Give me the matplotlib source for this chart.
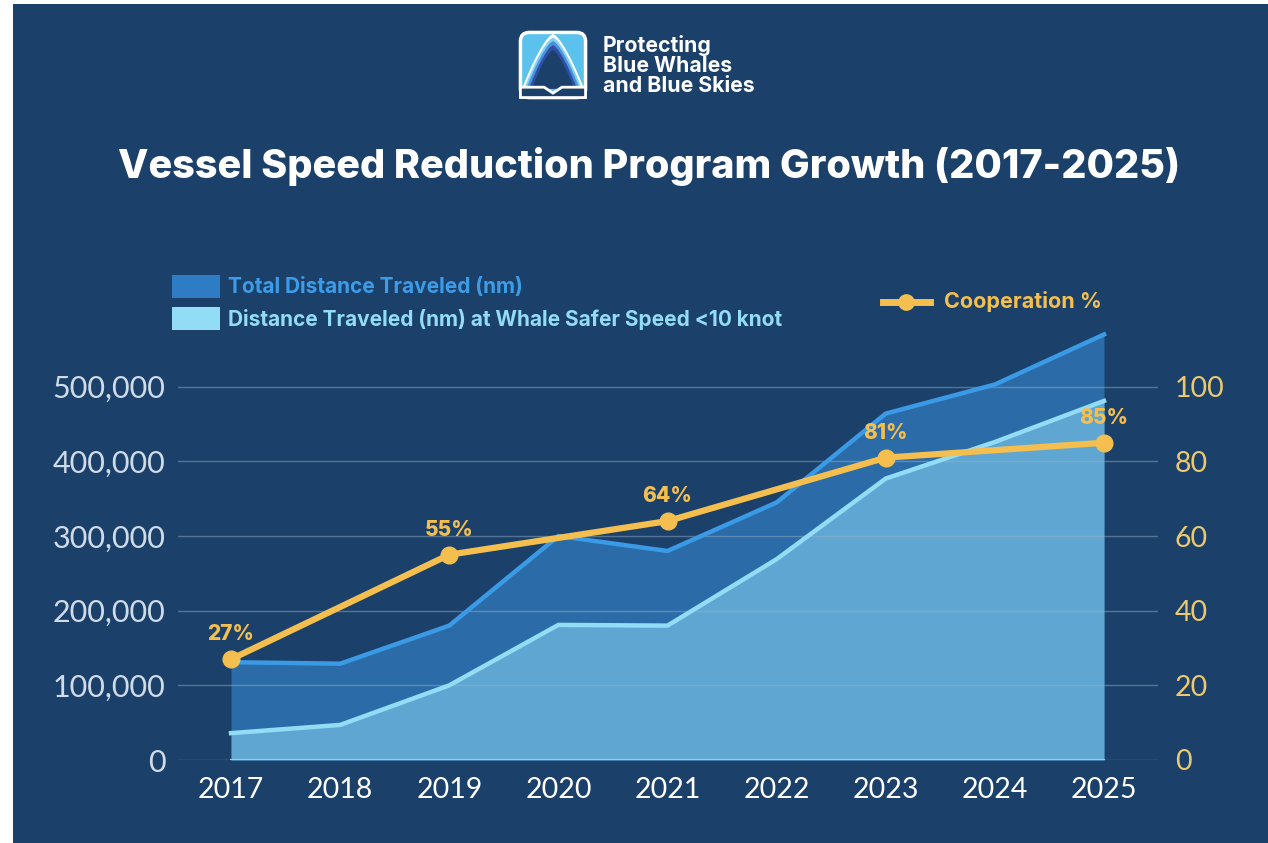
import numpy as np
import matplotlib.pyplot as plt
from matplotlib.patches import FancyBboxPatch, Polygon, Rectangle
from matplotlib.lines import Line2D

years = [2017, 2018, 2019, 2020, 2021, 2022, 2023, 2024, 2025]
total_nm = [131000, 129000, 180000, 300000, 280000, 345000, 464000, 503000, 570000]
safer_nm = [36000, 47000, 100000, 181000, 180000, 269000, 377000, 426000, 481000]
coop_years = [2017, 2019, 2021, 2023, 2025]
coop_pct = [27, 55, 64, 81, 85]

left_ticks = [0, 100000, 200000, 300000, 400000, 500000]
right_ticks = [0, 20, 40, 60, 80, 100]

BG = '#1b416b'
TOTAL_FILL = '#2b6ba7'
TOTAL_LINE = '#3b9ae6'
SAFER_FILL = '#5fa7d2'
SAFER_LINE = '#92dcf6'
YELLOW = '#f5bf4f'
TITLE_FONT = 'Inter'
THIN_FONT = 'Lato'

fig = plt.figure(figsize=(12.68, 8.43), dpi=100)
fig.patch.set_facecolor('white')
# dark panel (tiny white margin left/top like the screenshot)
fig.patches.append(Rectangle((13/1268, 0), 1 - 13/1268, 1 - 4/843, transform=fig.transFigure,
                             facecolor=BG, edgecolor='none', zorder=-5))

ax = fig.add_axes([178/1268, 1 - 760/843, (1158-178)/1268, (760-330)/843])
ax.set_facecolor('none')
x0, x1 = 2017 - 0.486, 2025 + 0.495
ax.set_xlim(x0, x1)
ymax = 576000
ax.set_ylim(0, ymax)

ax.fill_between(years, 0, total_nm, color=TOTAL_FILL, lw=0, zorder=1)
ax.fill_between(years, 0, safer_nm, color=SAFER_FILL, lw=0, zorder=1.1)
ax.plot(years, total_nm, color=TOTAL_LINE, lw=3.2, zorder=3, solid_joinstyle='miter')
ax.plot(years, safer_nm, color=SAFER_LINE, lw=3.2, zorder=3, solid_joinstyle='miter')
ax.plot([years[0], years[-1]], [0, 0], color='#d8c27a', lw=1.5, zorder=3)

for t in left_ticks:
    ax.axhline(t, color='#9fb3c8', lw=1, alpha=0.45, zorder=2)

ax.set_yticks(left_ticks)
ax.set_yticklabels(['{:,}'.format(t) for t in left_ticks])
ax.set_xticks(years)
ax.set_xticklabels([str(y) for y in years])
ax.tick_params(axis='y', length=0, pad=9, labelsize=22, labelcolor='#d0dbe8')
ax.tick_params(axis='x', length=0, pad=12, labelsize=20.5, labelcolor='white')
for lab in ax.get_yticklabels() + ax.get_xticklabels():
    lab.set_fontfamily(THIN_FONT)
for s in ax.spines.values():
    s.set_visible(False)

ax2 = ax.twinx()
ax2.set_ylim(0, ymax / 5000)
ax2.plot(coop_years, coop_pct, color=YELLOW, lw=4.5, marker='o', ms=12,
         solid_capstyle='round', zorder=5)
for xv, yv in zip(coop_years, coop_pct):
    ax2.annotate('{}%'.format(yv), (xv, yv), xytext=(0, 18), textcoords='offset points',
                 ha='center', va='center', color=YELLOW, fontsize=15,
                 fontweight='heavy', fontfamily=TITLE_FONT)
ax2.set_yticks(right_ticks)
ax2.tick_params(axis='y', length=0, pad=12, labelsize=20.5, labelcolor='#ecc86f')
for lab in ax2.get_yticklabels():
    lab.set_fontfamily(THIN_FONT)
for s in ax2.spines.values():
    s.set_visible(False)

# title
fig.text(649/1268, 1 - 167/843, 'Vessel Speed Reduction Program Growth (2017-2025)',
         ha='center', va='center', color='white', fontsize=28.5, fontweight='heavy',
         fontfamily=TITLE_FONT)

# legend (hand placed like the source graphic)
fig.patches.append(Rectangle((172/1268, 1 - 298/843), 48/1268, 23/843, transform=fig.transFigure,
                             facecolor='#2e7cc4', edgecolor='none'))
fig.patches.append(Rectangle((172/1268, 1 - 330/843), 48/1268, 23/843, transform=fig.transFigure,
                             facecolor='#93dcf6', edgecolor='none'))
fig.text(228/1268, 1 - 287/843, 'Total Distance Traveled (nm)', ha='left', va='center',
         color='#3d9ce8', fontsize=15, fontweight='bold', fontfamily=TITLE_FONT)
fig.text(228/1268, 1 - 319/843, 'Distance Traveled (nm) at Whale Safer Speed <10 knot',
         ha='left', va='center', color='#93dcf6', fontsize=15, fontweight='bold',
         fontfamily=TITLE_FONT)
fig.lines.append(Line2D([883/1268, 930/1268], [1 - 302/843, 1 - 302/843], transform=fig.transFigure,
                        color=YELLOW, lw=5, marker=None))
fig.lines.append(Line2D([906/1268], [1 - 302/843], transform=fig.transFigure,
                        color=YELLOW, marker='o', ms=11, lw=0))
fig.text(944/1268, 1 - 302/843, 'Cooperation %', ha='left', va='center',
         color=YELLOW, fontsize=15.5, fontweight='bold', fontfamily=TITLE_FONT)

# logo
lax = fig.add_axes([516/1268, 1 - 102/843, 74/1268, 74/843])
lax.set_xlim(0, 1)
lax.set_ylim(0, 1)
lax.axis('off')
lax.add_patch(FancyBboxPatch((0.06, 0.06), 0.88, 0.88, boxstyle='round,pad=0,rounding_size=0.12',
                             facecolor='#5bc2ee', edgecolor='white', lw=2.5))
t = np.linspace(0, 1, 30)
bands = [('white', 0.0), ('#7fd2f4', 0.06), ('#4f8fd8', 0.12), ('#2d4fa8', 0.19), (BG, 0.27)]
for col, d in bands:
    # curved arch from the top centre down to the lower corners
    xl = 0.5 - (0.42 - d * 0.5) * t ** 0.7
    yl = 0.92 - d * 0.8 - (0.74 - d * 0.8) * t
    pts = list(zip(xl, yl)) + list(zip(1 - xl[::-1], yl[::-1]))
    lax.add_patch(Polygon(pts, closed=True, facecolor=col, edgecolor='none'))
lax.add_patch(Polygon([(0.06, 0.2), (0.38, 0.2), (0.5, 0.12), (0.62, 0.2), (0.94, 0.2),
                       (0.94, 0.06), (0.06, 0.06)],
                      closed=True, facecolor=BG, edgecolor='white', lw=2))
fig.text(603/1268, 1 - 66/843, 'Protecting\nBlue Whales\nand Blue Skies', ha='left', va='center',
         color='white', fontsize=15.3, fontweight='bold', fontfamily=TITLE_FONT, linespacing=1.0)

fig.savefig('out.png', dpi=100, facecolor=fig.get_facecolor())
